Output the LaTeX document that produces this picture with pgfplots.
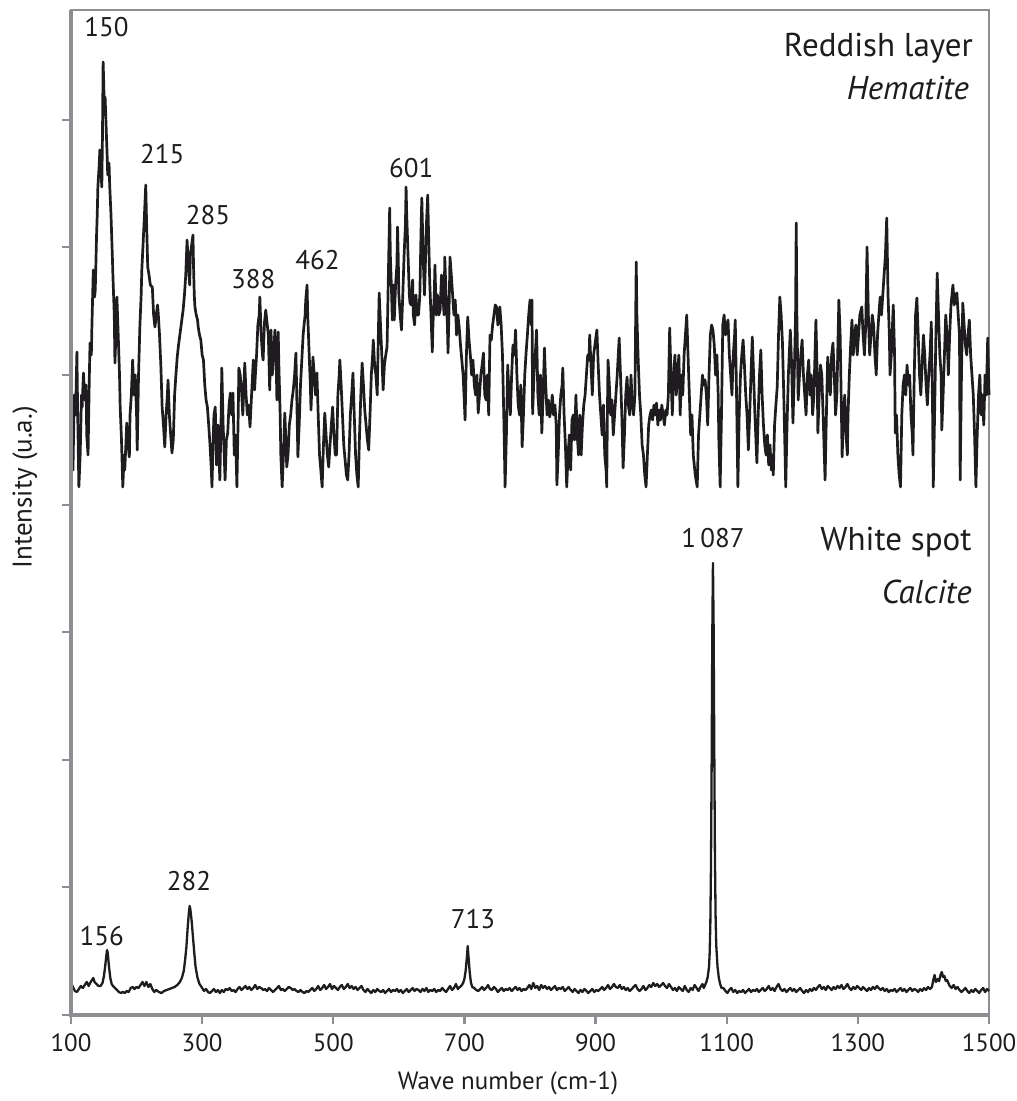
\documentclass[border=0pt]{standalone}
\usepackage{pgfplots}
\pgfplotsset{compat=1.18}
\usepackage{pgfplotstable}
\usepackage{fontspec}
\setmainfont{PT Sans}
\definecolor{axgray}{RGB}{140,142,146}
\definecolor{ink}{RGB}{30,28,30}

\pgfplotstableread{
x y
100 560
102 560
103 545
105 620
107 600
109 663
110 610
112 528
114 560
116 620
117 608
119 642
121 615
123 630
124 580
126 560
128 640
129 672
131 660
132 692
134 745
136 718
137 725
139 780
140 800
141 828
143 850
144 865
146 840
147 828
148 880
149 953
150 930
151 900
152 918
154 880
155 862
156 840
158 852
159 830
161 800
163 760
164 738
166 700
167 652
169 690
170 718
172 680
174 640
175 608
177 575
179 528
181 560
182 545
184 575
185 592
187 570
189 558
190 600
192 620
194 655
196 620
198 640
200 600
201 565
203 640
205 688
207 720
208 745
210 772
212 800
214 830
215 800
217 748
219 740
221 730
224 728
226 700
228 688
230 700
232 710
233 702
235 680
237 650
239 608
241 590
243 568
245 600
247 620
248 635
250 600
252 580
254 562
256 575
258 620
260 640
262 658
264 670
266 680
268 690
269 695
271 705
273 720
275 740
277 775
279 750
281 730
282 760
284 770
286 780
287 745
288 720
289 708
291 700
293 695
294 688
296 680
298 675
300 660
302 655
304 630
306 615
308 608
310 590
312 570
314 545
315 528
317 580
318 600
320 608
322 550
324 590
327 535
329 600
330 647
332 590
335 535
337 575
339 582
341 610
343 622
345 600
347 622
349 560
351 580
353 528
355 600
356 647
358 640
360 625
362 600
365 652
367 620
369 600
371 610
373 588
375 615
378 655
380 625
381 638
383 660
385 690
387 700
388 718
390 680
392 660
393 655
395 692
397 705
399 692
401 680
403 625
405 685
407 640
409 660
411 685
413 650
414 615
416 683
417 650
419 600
420 560
422 528
424 560
426 602
428 570
429 548
431 560
433 590
435 600
437 615
439 625
441 640
443 662
444 630
446 558
448 590
450 630
452 655
454 680
455 687
457 700
458 715
460 730
461 700
463 665
465 630
466 605
468 640
469 658
471 640
473 620
475 642
477 600
479 560
481 545
483 528
485 570
487 602
489 580
491 560
493 548
495 570
497 590
499 608
501 580
503 560
505 560
507 620
509 640
510 655
512 630
514 600
516 570
518 555
520 540
522 535
524 560
526 600
528 620
530 642
532 600
534 560
536 540
538 528
540 580
542 620
544 652
546 630
548 605
550 590
552 575
554 565
556 600
558 640
560 660
561 675
563 650
565 640
567 620
569 690
570 722
572 690
574 660
576 625
578 650
580 660
582 668
584 740
586 807
587 760
589 720
590 695
592 730
593 695
595 730
597 750
598 788
599 760
600 720
602 700
604 685
606 720
608 760
610 790
611 828
612 800
614 760
616 720
617 712
619 710
621 735
622 700
624 690
626 720
628 700
630 700
632 720
634 790
635 817
637 760
639 720
640 740
642 790
644 820
645 790
647 735
649 700
651 663
652 690
654 720
655 750
657 700
659 720
661 700
663 705
665 740
667 720
669 700
670 758
672 720
674 690
675 662
677 720
678 758
680 740
682 720
684 700
686 715
688 680
690 700
692 688
694 670
696 655
698 640
699 625
701 595
703 660
705 698
707 675
709 660
711 640
713 655
715 630
717 620
719 640
721 602
723 620
725 640
727 650
729 662
731 620
733 615
735 640
737 600
739 680
741 675
743 690
745 700
747 710
749 708
751 690
752 700
754 708
756 690
758 660
760 600
762 528
764 580
766 650
768 620
770 600
772 640
774 670
776 660
778 685
780 640
782 610
784 600
786 630
788 568
790 600
792 640
794 662
796 680
798 700
800 715
802 690
803 715
804 601
806 640
808 660
810 685
812 620
814 600
816 640
818 582
820 620
822 667
824 630
826 600
828 615
830 598
832 605
834 620
836 600
838 610
840 590
841 530
843 560
845 600
847 620
849 630
850 647
852 600
854 570
856 528
858 560
860 580
862 545
864 595
866 600
868 575
870 620
872 580
874 560
876 600
878 560
880 590
882 610
884 620
886 640
888 660
890 655
891 680
893 650
895 620
897 660
899 670
901 680
902 685
904 650
906 620
908 600
910 580
912 610
914 560
916 545
917 528
918 600
919 655
921 630
923 600
925 615
927 580
929 600
931 620
933 640
935 665
936 677
938 640
940 600
942 547
944 580
946 620
948 638
950 610
952 600
954 640
956 610
958 600
960 620
962 753
963 700
965 655
967 620
969 600
971 570
973 560
975 540
977 528
979 560
981 590
983 600
985 605
987 595
989 610
991 600
993 612
995 590
997 605
999 595
1001 610
1003 600
1005 590
1007 605
1009 600
1011 620
1013 687
1015 640
1017 600
1019 640
1021 660
1023 620
1025 640
1027 660
1029 600
1031 640
1033 620
1035 660
1037 680
1039 700
1041 660
1043 620
1045 580
1047 600
1049 560
1052 540
1055 528
1057 580
1059 600
1061 620
1063 640
1065 630
1067 635
1069 620
1071 590
1073 640
1075 680
1077 690
1079 685
1081 670
1083 640
1085 660
1087 620
1088 575
1090 528
1092 600
1094 690
1096 700
1098 680
1100 690
1102 695
1104 660
1106 640
1108 620
1110 660
1112 680
1113 695
1115 620
1117 528
1119 600
1121 640
1123 660
1125 675
1127 650
1129 620
1131 600
1133 565
1135 600
1137 640
1139 678
1141 640
1143 600
1146 552
1148 600
1150 640
1152 665
1154 620
1156 590
1158 570
1160 560
1162 580
1164 550
1166 570
1168 545
1170 560
1171 540
1173 590
1175 610
1177 628
1179 680
1181 718
1183 700
1185 672
1187 620
1189 560
1190 528
1192 590
1194 640
1197 685
1199 650
1201 592
1203 640
1205 700
1206 792
1207 700
1209 615
1211 640
1213 660
1215 675
1217 640
1219 620
1221 600
1223 640
1225 655
1227 620
1229 640
1231 600
1233 620
1236 695
1238 640
1239 582
1241 620
1243 650
1245 640
1247 600
1250 535
1252 600
1254 658
1256 640
1258 620
1260 660
1262 672
1264 640
1266 600
1268 620
1271 715
1273 680
1275 600
1276 558
1278 600
1280 620
1282 580
1284 560
1285 600
1287 640
1289 670
1291 695
1293 660
1295 680
1297 690
1299 660
1301 680
1303 700
1306 708
1308 680
1310 660
1312 690
1314 768
1316 700
1318 660
1320 680
1322 700
1324 690
1326 660
1328 640
1330 680
1332 700
1334 718
1336 700
1338 720
1340 740
1342 760
1344 797
1346 720
1348 680
1349 640
1351 660
1354 710
1356 660
1357 582
1359 600
1361 560
1363 540
1365 528
1367 600
1369 630
1371 640
1373 620
1375 650
1377 630
1379 640
1381 600
1383 580
1384 560
1386 640
1388 700
1390 717
1392 680
1394 640
1396 620
1398 650
1400 680
1402 660
1404 630
1406 610
1408 640
1410 660
1412 693
1414 600
1415 528
1417 600
1419 680
1421 742
1423 700
1425 660
1427 640
1428 585
1430 620
1432 660
1434 700
1436 680
1438 640
1440 680
1442 710
1445 730
1447 710
1449 720
1451 722
1453 700
1455 680
1456 535
1458 640
1460 712
1462 690
1464 670
1466 660
1468 680
1470 695
1472 660
1474 640
1476 620
1478 580
1480 528
1482 580
1484 620
1486 640
1488 600
1490 620
1492 590
1494 640
1496 620
1498 677
1500 620
}\hem

\pgfplotstableread{
x y
100 32
103 28
106 24
109 23
112 26
115 29
118 27
121 30
124 33
127 29
130 33
132 35
134 37
136 33
139 31
142 29
145 29
148 32
150 38
152 48
154 60
155 65
156 62
158 48
160 37
162 31
164 29
167 27
170 25
173 23
176 22
179 23
182 22
185 24
188 23
191 27
194 28
197 26
200 28
203 27
206 30
209 33
212 29
215 33
218 28
221 31
224 26
227 23
230 25
234 23
238 22
242 24
246 25
250 26
254 27
258 28
262 30
266 33
269 37
272 44
274 55
276 68
278 88
280 104
281 109
282 106
284 94
286 78
288 62
290 48
293 37
296 31
300 27
303 24
306 26
309 23
312 22
315 24
318 26
321 23
324 25
327 22
330 25
333 23
336 26
339 25
342 27
345 24
348 25
351 23
354 26
357 28
360 25
363 27
366 29
369 26
372 28
375 25
378 27
381 30
384 26
387 28
390 27
393 25
396 26
399 24
402 27
405 25
408 23
411 25
414 27
417 29
420 25
423 26
426 24
429 26
432 28
435 27
438 25
441 26
444 24
447 23
450 25
453 23
456 22
459 24
462 23
465 25
468 27
471 24
474 26
477 29
480 25
483 27
486 30
489 26
492 28
495 31
498 26
501 29
504 27
507 25
510 28
513 30
516 26
519 28
522 31
525 27
528 29
531 26
534 28
537 25
540 27
543 29
546 25
549 23
552 26
555 24
558 22
561 25
564 23
567 26
570 24
573 23
576 25
579 22
582 24
585 26
588 23
591 25
594 24
597 26
600 23
603 25
606 22
609 24
612 26
615 23
618 25
621 27
624 24
627 26
630 25
633 23
636 26
639 24
642 27
645 23
648 25
651 24
654 26
657 23
660 25
663 24
666 27
669 25
672 23
675 26
678 29
681 25
684 27
687 31
690 26
693 28
695 29
698 32
700 36
702 45
704 60
705 69
706 60
708 43
710 32
712 28
715 27
718 25
721 24
724 26
727 28
730 25
733 27
736 30
739 26
742 25
745 28
748 26
751 23
754 25
757 27
760 24
763 26
766 25
769 27
772 24
775 26
778 28
781 25
784 27
787 24
790 26
793 25
796 27
799 30
802 26
805 32
808 27
811 29
814 25
817 30
820 27
823 29
826 26
829 28
832 25
835 27
838 29
841 25
844 27
847 26
850 28
853 24
856 26
859 28
862 25
865 23
868 26
871 24
874 22
877 25
880 23
883 26
886 24
889 22
892 24
895 26
898 23
901 25
904 24
907 26
910 28
913 25
916 27
919 30
922 26
925 28
928 31
931 28
934 27
937 30
940 26
943 28
946 25
949 27
952 24
955 26
958 28
961 30
964 26
967 24
970 26
973 29
976 25
979 27
982 30
985 28
988 32
991 29
994 31
997 28
1000 30
1003 32
1006 29
1009 27
1012 31
1015 28
1018 25
1021 27
1024 24
1027 28
1030 26
1033 24
1036 29
1039 25
1042 23
1045 27
1048 25
1051 30
1054 27
1057 24
1060 28
1063 31
1065 27
1067 30
1069 33
1071 38
1073 48
1074 62
1075 90
1076 150
1077 250
1078 380
1079 452
1080 390
1081 270
1082 160
1083 100
1084 70
1086 48
1088 37
1090 31
1092 27
1095 27
1098 24
1101 22
1104 25
1107 27
1110 23
1113 25
1116 22
1119 24
1122 23
1125 25
1128 22
1131 24
1134 26
1137 23
1140 25
1143 24
1146 26
1149 23
1152 25
1155 27
1158 24
1161 26
1164 29
1167 25
1170 27
1173 24
1176 28
1179 31
1182 26
1185 24
1188 26
1191 23
1194 25
1197 27
1200 24
1203 26
1206 23
1209 25
1212 27
1215 24
1218 22
1221 25
1224 23
1227 26
1230 24
1233 27
1236 25
1239 28
1242 30
1245 26
1248 28
1251 25
1254 29
1257 27
1260 25
1263 28
1266 26
1269 29
1272 27
1275 30
1278 26
1281 28
1284 31
1287 27
1290 25
1293 28
1296 26
1299 29
1302 27
1305 25
1308 28
1311 26
1314 24
1317 27
1320 25
1323 28
1326 26
1329 29
1332 27
1335 25
1338 27
1341 24
1344 26
1347 23
1350 25
1353 24
1356 26
1359 23
1362 25
1365 27
1368 24
1371 26
1374 23
1377 25
1380 27
1383 24
1386 26
1389 25
1392 23
1395 26
1398 24
1401 27
1404 25
1407 28
1410 26
1413 28
1415 35
1417 40
1419 33
1422 36
1424 34
1426 40
1428 43
1430 38
1432 39
1434 34
1436 35
1438 32
1440 29
1443 27
1446 30
1449 26
1452 28
1455 25
1458 23
1461 25
1464 27
1467 24
1470 22
1473 25
1476 23
1479 26
1482 24
1485 22
1488 25
1491 27
1494 23
1497 26
1500 24
}\cal

\begin{document}
\begin{tikzpicture}
\begin{axis}[
  name=ax,
  scale only axis,
  width=459pt, height=502.5pt,
  xmin=100, xmax=1500, ymin=0, ymax=1005,
  xtick={100,300,500,700,900,1100,1300,1500},
  ytick={0,128,255,383,510,640,768,895},
  yticklabels={},
  xtick pos=bottom, ytick pos=left,
  tick align=outside,
  major tick length=4.5pt,
  tick style={axgray, line width=1.2pt},
  axis line style={axgray, line width=0.8pt},
  /pgf/number format/assume math mode=true,
  /pgf/number format/1000 sep={},
  xticklabel style={font=\fontsize{12.5}{14}\selectfont, text=ink, yshift=-1.5pt},
  xlabel={Wave number (cm-1)},
  ylabel={Intensity (u.a.)},
  xlabel style={font=\fontsize{12.5}{14}\selectfont, text=ink, at={(axis description cs:0.476,-0.0677)}, anchor=center},
  ylabel style={font=\fontsize{13.5}{15}\selectfont, text=ink, at={(axis description cs:-0.050,0.525)}, anchor=center},
  clip=false,
]
\addplot[ink, line width=1.35pt, line join=round] table[x=x,y=y] {\hem};
\addplot[ink, line width=1.15pt, line join=round] table[x=x,y=y] {\cal};

\begin{scope}[every node/.style={font=\fontsize{13.5}{15}\selectfont, text=ink}]
\node at (axis cs:154,988) {150};
\node at (axis cs:239,861) {215};
\node at (axis cs:309,800) {285};
\node at (axis cs:378,736) {388};
\node at (axis cs:476,755) {462};
\node at (axis cs:619,847) {601};
\node at (axis cs:147,79) {156};
\node at (axis cs:280,134) {282};
\node at (axis cs:713,96) {713};
\node at (axis cs:1079,477) {1\,087};
\end{scope}
\begin{scope}[every node/.style={font=\fontsize{16.5}{18}\selectfont, text=ink, anchor=east, inner sep=0pt}]
\node at (axis cs:1476,967) {Reddish layer};
\node at (axis cs:1470,927) {\itshape Hematite};
\node at (axis cs:1474,473) {White spot};
\node at (axis cs:1474,423) {\itshape Calcite};
\end{scope}
\draw[axgray, line width=1.6pt] (rel axis cs:0,1) -- (rel axis cs:0,0) -- (rel axis cs:1,0);
\end{axis}
\pgfresetboundingbox
\path[use as bounding box] ([xshift=-35.5pt,yshift=-43pt]ax.south west) rectangle ([xshift=13.5pt,yshift=5pt]ax.north east);
\end{tikzpicture}
\end{document}
